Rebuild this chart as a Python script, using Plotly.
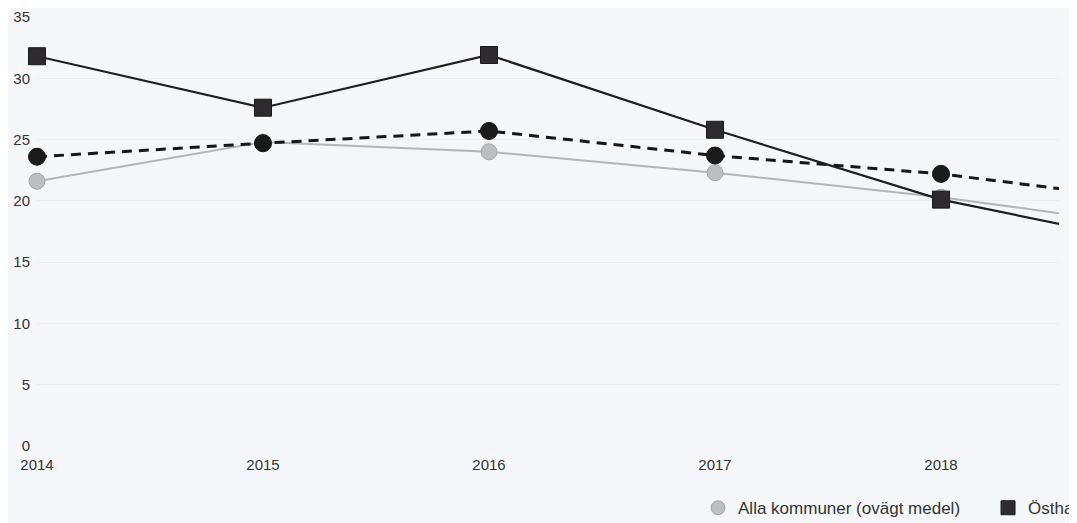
import plotly.graph_objects as go

years = [2014, 2015, 2016, 2017, 2018, 2019]
alla_kommuner = [21.6, 24.8, 24.0, 22.3, 20.3, 17.8]
osthammar = [31.8, 27.6, 31.9, 25.8, 20.1, 16.3]
jamforelse = [23.6, 24.7, 25.7, 23.7, 22.2, 19.9]

name_alla = "Alla kommuner (ovägt medel)"
name_ost = "Östhammar"
name_jmf = "Liknande kommuner"

y_ticks = [0, 5, 10, 15, 20, 25, 30, 35]

bg = "#f6f7fb"
font_family = "Liberation Sans, Arial, sans-serif"

style_alla = dict(line=dict(color="#b4b6ba", width=2),
                  marker=dict(symbol="circle", size=16, color="#bcbec2",
                              line=dict(color="#a5a7ab", width=1)))
style_jmf = dict(line=dict(color="#161616", width=3, dash="10px,7px"),
                 marker=dict(symbol="circle", size=17, color="#1a1a1a",
                             line=dict(color="#111111", width=1)))
style_ost = dict(line=dict(color="#1e1e1e", width=2.2),
                 marker=dict(symbol="square", size=17, color="#2e2b2e",
                             line=dict(color="#1a1a1a", width=1)))

fig = go.Figure()
for name, vals, st in [(name_alla, alla_kommuner, style_alla),
                       (name_jmf, jamforelse, style_jmf),
                       (name_ost, osthammar, style_ost)]:
    fig.add_trace(go.Scatter(
        x=years, y=vals, name=name, mode="lines+markers",
        line=st["line"], marker=st["marker"], cliponaxis=False,
        showlegend=False,
    ))

# legend entries (marker only, as in the original)
for rank, (name, st) in enumerate([(name_alla, style_alla),
                                   (name_ost, style_ost),
                                   (name_jmf, style_jmf)]):
    m = dict(st["marker"])
    m["size"] = 14
    fig.add_trace(go.Scatter(
        x=[None], y=[None], name=name, mode="markers", marker=m,
        showlegend=True, legendrank=rank + 1,
    ))

fig.update_layout(
    width=1069, height=515,
    margin=dict(l=29, r=18, t=9, b=77, autoexpand=False),
    paper_bgcolor=bg, plot_bgcolor=bg,
    font=dict(family=font_family, size=15, color="#333333"),
    showlegend=True,
    legend=dict(
        orientation="h", x=0.6468, xanchor="left", y=-0.145, yanchor="middle",
        font=dict(size=17, color="#333333"), bgcolor="rgba(0,0,0,0)",
        itemwidth=30, entrywidth=245,
    ),
    xaxis=dict(
        range=[2014, 2018.522], tickmode="array", tickvals=years,
        ticktext=[str(y) for y in years], showgrid=False, zeroline=False,
        showline=False, ticks="", ticklabelstandoff=8,
        tickfont=dict(size=15, color="#333333"),
    ),
    yaxis=dict(
        range=[0, 35], tickmode="array", tickvals=y_ticks,
        showgrid=True, gridcolor="#eceef3", gridwidth=1, zeroline=False,
        showline=False, ticks="", ticklabelstandoff=6,
        tickfont=dict(size=15, color="#333333"),
    ),
)

fig.write_html("out.html")
